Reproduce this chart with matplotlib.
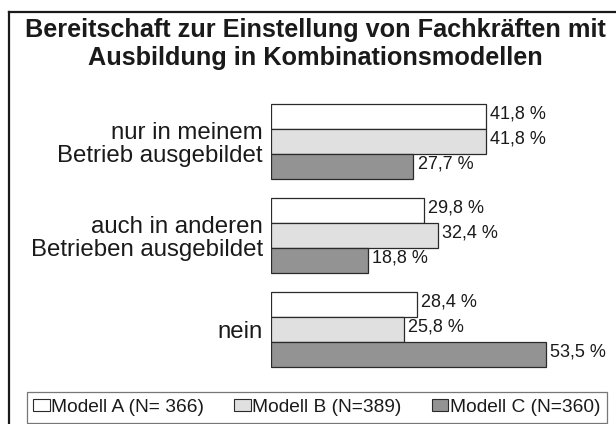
import matplotlib
matplotlib.use("Agg")
import matplotlib.pyplot as plt
from matplotlib.lines import Line2D
from matplotlib.patches import Patch
import numpy as np

plt.rcParams['font.family'] = ['Liberation Sans', 'DejaVu Sans']

title_lines = ["Bereitschaft zur Einstellung von Fachkräften mit",
               "Ausbildung in Kombinationsmodellen"]
categories = ["nur in meinem\nBetrieb ausgebildet",
              "auch in anderen\nBetrieben ausgebildet",
              "nein"]
series_names = ["Modell A (N= 366)", "Modell B (N=389)", "Modell C (N=360)"]
modell_a = [41.8, 29.8, 28.4]
modell_b = [41.8, 32.4, 25.8]
modell_c = [27.7, 18.8, 53.5]
colors = ["#ffffff", "#e0e0e1", "#939393"]
edge = "#2a2a2a"
txt = "#1a1a1a"

W, H = 616, 424
fig = plt.figure(figsize=(W / 100, H / 100), dpi=100)

# outer frame (left and top lines)
fig.add_artist(Line2D([9 / W, 9 / W], [0, 1 - 12 / H], transform=fig.transFigure,
                      color=txt, lw=1.6, solid_capstyle="projecting"))
fig.add_artist(Line2D([9 / W, 1.0], [1 - 12 / H, 1 - 12 / H], transform=fig.transFigure,
                      color=txt, lw=1.6, solid_capstyle="projecting"))

for line, yb in zip(title_lines, [37, 65]):
    fig.text(315.5 / W, 1 - yb / H, line, ha="center", va="baseline", fontsize=18.2,
             fontweight="bold", color=txt)

ax_left = 271 / W
ax_right = 610 / W
ax = fig.add_axes([ax_left, 1 - 376.5 / H, ax_right - ax_left, 282 / H])
px_per_pct = 5.14
xmax = (610 - 271) / px_per_pct
ax.set_xlim(0, xmax)
ax.set_ylim(2.5, -0.5)

y = np.arange(len(categories))
h = 25 / 94
series = [modell_a, modell_b, modell_c]
for i, (vals, col) in enumerate(zip(series, colors)):
    pos = y + (i - 1) * h
    ax.barh(pos, vals, height=h, color=col, edgecolor=edge, linewidth=0.9)
    for p, v in zip(pos, vals):
        ax.annotate(f"{v:.1f} %".replace(".", ","), xy=(v, p), xytext=(3, 1.5),
                    textcoords="offset points", ha="left", va="center",
                    fontsize=13, color=txt)

ax.set_yticks(y)
ax.set_yticklabels(categories, fontsize=17.3, color=txt, linespacing=1.05)
ax.tick_params(axis="y", length=0, pad=6)
ax.set_xticks([])
for s in ["top", "right", "bottom", "left"]:
    ax.spines[s].set_visible(False)
ax.patch.set_alpha(0)

handles = [Patch(facecolor=c, edgecolor="#2a2a2a", linewidth=0.8) for c in colors]
leg = fig.legend(handles, series_names, loc="upper left", ncol=3,
                 bbox_to_anchor=(26.5 / W, 1 - 396.5 / H, (607 - 26.5) / W, 0.01),
                 mode="expand", fontsize=13.8, frameon=True, fancybox=False,
                 handlelength=0.85, handleheight=0.6, handletextpad=0.1,
                 borderaxespad=0, borderpad=0.35, columnspacing=1.0)
leg.get_frame().set_edgecolor("#555555")
leg.get_frame().set_linewidth(0.9)
for t in leg.get_texts():
    t.set_color(txt)

fig.savefig("out.png", dpi=100)
